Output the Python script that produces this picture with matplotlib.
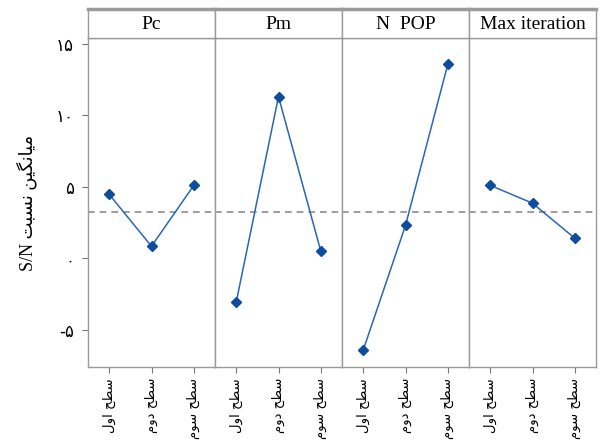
import numpy as np
import matplotlib.pyplot as plt

# main effects for S/N ratios
factors = ['Pc', 'Pm', 'N  POP', 'Max iteration']
levels = [1, 2, 3]
pc = [4.47, 0.84, 5.1]
pm = [-3.08, 11.3, 0.49]
npop = [-6.43, 2.3, 13.57]
maxit = [5.1, 3.85, 1.4]
series = [pc, pm, npop, maxit]

yticks = [-5, 0, 5, 10, 15]
ytick_labels = ['-\u06f5', '\u06f0', '\u06f5', '\u06f1\u06f0', '\u06f1\u06f5']

# persian text written in visual order with presentation forms (no shaping in mpl)
lvl_labels = [
    '\ufedd\ufeed\ufe8d \ufea2\ufec4\ufeb3',   # سطح اول
    '\ufee1\ufeed\ufea9 \ufea2\ufec4\ufeb3',   # سطح دوم
    '\ufee1\ufeee\ufeb3 \ufea2\ufec4\ufeb3',   # سطح سوم
]
ylabel = 'S/N \ufe96\ufe92\ufeb4\ufee7 \ufee6\ufef4\ufb95\ufee7\ufe8e\ufef4\ufee3'  # میانگین نسبت S/N

grand_mean = np.mean(np.concatenate(series))

plt.rcParams['font.family'] = ['Liberation Serif', 'DejaVu Sans']

fig = plt.figure(figsize=(6.02, 4.41), dpi=100)
left, right = 88 / 602, 596 / 602
bottom, top = 1 - 367 / 441, 1 - 38 / 441
strip_top = 1 - 9 / 441
w = (right - left) / 4
edge = '#9a9a9a'

axes = []
for i in range(4):
    ax = fig.add_axes([left + i * w, bottom, w, top - bottom], sharey=axes[0] if axes else None)
    axes.append(ax)
    ax.axhline(grand_mean, color='#8c8c8c', ls=(0, (4, 3)), lw=1.2, zorder=1)
    ax.plot(levels, series[i], color='#2a66b3', lw=1.1, marker='D', ms=5.5,
            mfc='#0d4d9e', mec='#0d4d9e', zorder=3)
    ax.set_xlim(0.5, 3.5)
    ax.set_ylim(-7.6, 15.4)
    ax.set_xticks(levels)
    ax.set_xticklabels(lvl_labels, rotation=90, fontsize=9.5, family='DejaVu Sans')
    ax.tick_params(axis='x', colors='#777777', labelcolor='black', length=4, pad=4)
    for s in ax.spines.values():
        s.set_color(edge)
        s.set_linewidth(1.0)
    if i == 0:
        ax.set_yticks(yticks)
        ax.set_yticklabels(ytick_labels, fontsize=12, family='DejaVu Sans')
        ax.tick_params(axis='y', colors='#777777', labelcolor='black', length=4, pad=6)
        ax.set_ylabel(ylabel, fontsize=13, family=['Liberation Serif', 'DejaVu Sans'], labelpad=14)
    else:
        ax.tick_params(axis='y', left=False, labelleft=False)

    # header strip
    sax = fig.add_axes([left + i * w, top, w, strip_top - top])
    sax.set_xticks([])
    sax.set_yticks([])
    for s in sax.spines.values():
        s.set_color(edge)
        s.set_linewidth(1.0)
    sax.spines['top'].set_linewidth(2.5)
    sax.text(0.5, 0.45, factors[i], ha='center', va='center', fontsize=14,
             family='Liberation Serif', transform=sax.transAxes)

fig.savefig('out.png', dpi=100)
